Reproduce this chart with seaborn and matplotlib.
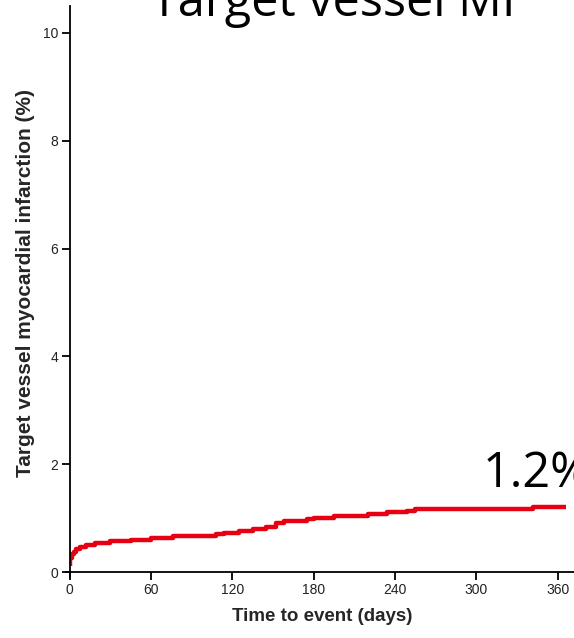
import matplotlib
matplotlib.use("Agg")
import matplotlib.pyplot as plt
import seaborn as sns
import pandas as pd

# Kaplan-Meier style cumulative incidence of target vessel MI
days = [0, 0.5, 1.5, 3, 5, 8, 12, 19, 30, 45, 60, 76, 108, 114, 125, 135,
        145, 152, 158, 175, 180, 195, 220, 234, 249, 255, 342, 366]
cum_incidence = [0.12, 0.26, 0.33, 0.38, 0.42, 0.46, 0.50, 0.54, 0.57, 0.60,
                 0.63, 0.67, 0.70, 0.73, 0.76, 0.80, 0.84, 0.90, 0.95, 0.99,
                 1.01, 1.04, 1.07, 1.11, 1.14, 1.17, 1.20, 1.20]
x_ticks = [0, 60, 120, 180, 240, 300, 360]
y_ticks = [0, 2, 4, 6, 8, 10]
final_label = "1.2%"
title = "Target vessel MI"
x_label = "Time to event (days)"
y_label = "Target vessel myocardial infarction (%)"

sns.set_theme(style="ticks")
plt.rcParams["font.family"] = ["Liberation Sans", "DejaVu Sans"]

df = pd.DataFrame({"day": days, "cum": cum_incidence})

W, H = 574, 638
fig = plt.figure(figsize=(W / 100, H / 100), dpi=100)
ax = fig.add_axes([69.5 / W, 66 / H, (W - 69.5) / W, (572 - 6) / H])

sns.lineplot(data=df, x="day", y="cum", ax=ax, color="#e60012",
             linewidth=3.2, drawstyle="steps-post", estimator=None,
             solid_capstyle="butt")

ax.set_xlim(0, 372)
ax.set_ylim(0, 10.5)
ax.set_xticks(x_ticks)
ax.set_yticks(y_ticks)
ax.tick_params(axis="both", length=6, width=1.3, color="black",
               labelsize=10, pad=2, labelcolor="#222222")
for side in ("top", "right"):
    ax.spines[side].set_visible(False)
for side in ("left", "bottom"):
    ax.spines[side].set_linewidth(1.3)
    ax.spines[side].set_color("black")
ax.spines["left"].set_bounds(-0.09, 10.5)
ax.spines["bottom"].set_bounds(-2.5, 372)

ax.set_xlabel(x_label, fontsize=13.5, fontweight="bold", labelpad=8)
ax.set_ylabel(y_label, fontsize=15, fontweight="bold")
ax.yaxis.set_label_coords(-0.068, 0.511)
ax.grid(False)

fig.text(333 / W, 1 - 16 / H, title, ha="center", va="baseline",
         fontsize=35, family=["Open Sans", "DejaVu Sans"], color="black")
ax.text(483 / W, 1 - 487 / H, final_label, transform=fig.transFigure,
        ha="left", va="baseline", fontsize=35,
        family=["Open Sans", "DejaVu Sans"], color="black")

fig.savefig("out.png", dpi=100)
